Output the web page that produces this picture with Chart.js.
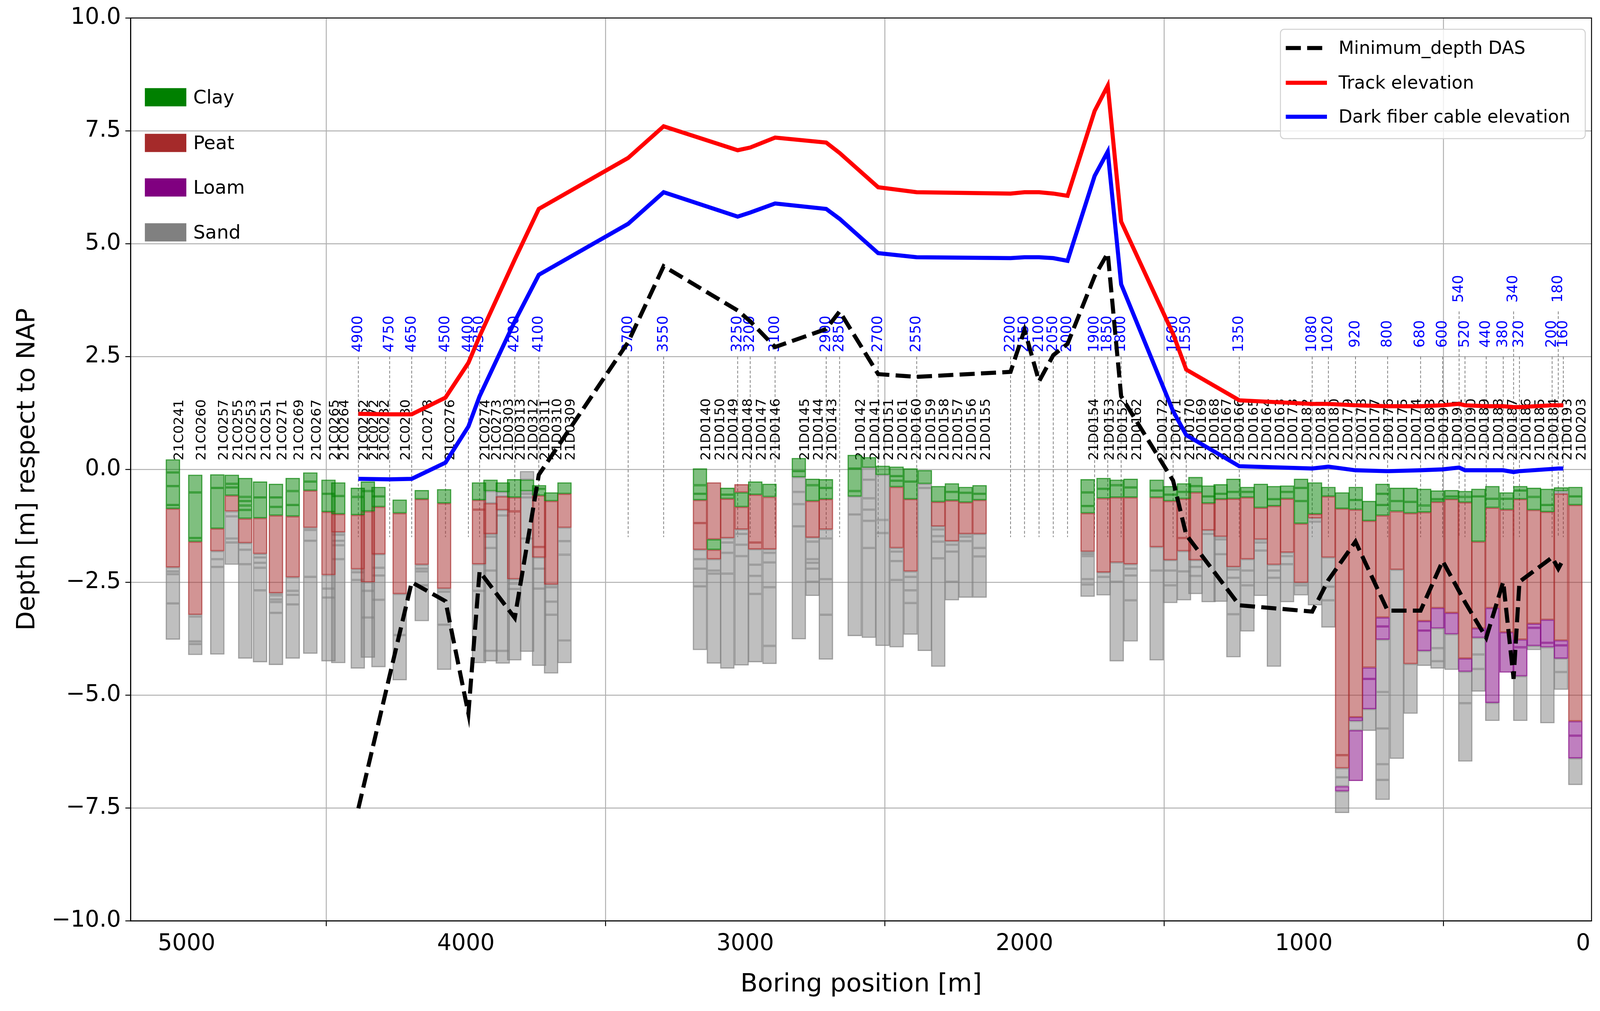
<!DOCTYPE html>
<html>
<head>
<meta charset="utf-8">
<script src="https://cdn.jsdelivr.net/npm/chart.js@4.4.1/dist/chart.umd.min.js"></script>
<style>
  html, body { margin: 0; padding: 0; background: #fff; overflow: hidden; }
</style>
</head>
<body>
<div id="wrap"><canvas id="profile"></canvas></div>
<script>
// borings: name, x position [m], layer boundaries [m NAP] top->bottom, soil per layer
const boreNames = ['21C0241','21C0260','21C0257','21C0255','21C0253','21C0251','21C0271','21C0269','21C0267','21C0265',
  '21C0264','21C0262','21C0272','21C0282','21C0280','21C0278','21C0276','21C0274','21C0273','21D0303',
  '21D0313','21D0312','21D0311','21D0310','21D0309','21D0140','21D0150','21D0149','21D0148','21D0147',
  '21D0146','21D0145','21D0144','21D0143','21D0142','21D0141','21D0151','21D0161','21D0160','21D0159',
  '21D0158','21D0157','21D0156','21D0155','21D0154','21D0153','21D0152','21D0162','21D0172','21D0171',
  '21D0170','21D0169','21D0168','21D0167','21D0166','21D0165','21D0164','21D0163','21D0173','21D0182',
  '21D0181','21D0180','21D0179','21D0178','21D0177','21D0176','21D0175','21D0174','21D0183','21D0192',
  '21D0191','21D0190','21D0189','21D0188','21D0187','21D0186','21D0185','21D0184','21D0193','21D0203'];
const boreX = [5049,4969,4890,4838,4790,4737,4680,4620,4557,4492,
  4457,4387,4351,4313,4237,4158,4078,3953,3912,3868,
  3827,3781,3738,3695,3647,3162,3112,3064,3013,2964,
  2913,2808,2759,2711,2608,2557,2508,2458,2408,2357,
  2309,2260,2211,2161,1774,1717,1670,1620,1527,1478,
  1429,1388,1341,1298,1252,1202,1154,1107,1060,1010,
  960,912,863,814,766,718,667,618,569,521,
  471,422,375,325,274,225,176,128,79,28];
const boreBounds = [
  [0.22,-0.07,-0.37,-0.79,-0.87,-2.17,-2.26,-2.32,-2.97,-3.77],
  [-0.12,-0.51,-1.52,-1.60,-3.22,-3.26,-3.81,-3.87,-4.11],
  [-0.11,-0.41,-1.31,-1.81,-1.99,-2.16,-4.10],
  [-0.12,-0.32,-0.40,-0.58,-0.93,-1.04,-1.53,-1.62,-2.11],
  [-0.19,-0.61,-0.70,-0.80,-0.90,-1.09,-1.63,-1.78,-2.10,-4.19],
  [-0.27,-0.62,-1.08,-1.87,-1.95,-2.07,-2.18,-2.68,-4.27],
  [-0.32,-0.62,-0.83,-1.02,-2.74,-2.79,-2.88,-2.94,-3.18,-4.33],
  [-0.19,-0.48,-0.79,-1.04,-2.39,-2.69,-2.78,-2.99,-4.19],
  [-0.07,-0.27,-0.47,-1.29,-1.34,-1.58,-2.38,-4.08],
  [-0.23,-0.54,-0.94,-2.34,-2.64,-2.84,-4.25],
  [-0.29,-0.59,-0.99,-1.39,-1.45,-1.58,-1.68,-1.99,-4.29],
  [-0.41,-0.61,-1.01,-2.21,-2.28,-2.45,-4.41],
  [-0.27,-0.48,-0.93,-2.50,-2.69,-3.28,-4.17],
  [-0.39,-0.60,-0.83,-1.88,-2.18,-2.35,-2.89,-4.38],
  [-0.67,-0.97,-2.76,-3.67,-4.67],
  [-0.46,-0.66,-2.11,-2.20,-2.26,-2.57,-3.36],
  [-0.44,-0.75,-2.64,-2.71,-3.44,-4.44],
  [-0.29,-0.68,-0.89,-2.10,-2.69,-4.29],
  [-0.23,-0.48,-0.75,-1.43,-1.49,-1.74,-2.24,-4.02,-4.25],
  [-0.29,-0.50,-0.60,-0.90,-1.02,-4.02,-4.30],
  [-0.22,-0.62,-0.93,-2.43,-2.53,-2.65,-4.23],
  [-0.04,-0.23,-0.48,-0.54,-0.62,-1.53,-4.04],
  [-0.35,-0.43,-0.58,-1.72,-1.95,-2.20,-2.64,-4.35],
  [-0.51,-0.70,-2.55,-2.61,-2.93,-3.22,-4.52],
  [-0.29,-0.54,-1.29,-1.59,-1.89,-3.79,-4.29],
  [0.02,-0.35,-0.54,-0.68,-1.19,-1.78,-1.99,-2.20,-2.59,-4.00],
  [-0.29,-1.55,-1.78,-1.99,-2.24,-2.31,-4.30],
  [-0.41,-0.56,-0.65,-1.52,-1.62,-1.85,-2.31,-4.41],
  [-0.33,-0.51,-0.83,-1.33,-1.43,-1.67,-1.92,-4.34],
  [-0.27,-0.56,-1.62,-1.77,-2.11,-2.36,-2.76,-4.27],
  [-0.32,-0.61,-1.77,-1.85,-2.06,-2.61,-3.91,-4.31],
  [0.25,-0.04,-0.17,-0.50,-0.77,-1.26,-3.76],
  [-0.21,-0.35,-0.70,-1.51,-1.60,-1.99,-2.07,-2.20,-2.49,-2.80],
  [-0.22,-0.41,-0.66,-1.33,-1.53,-2.43,-3.22,-4.21],
  [0.32,0.02,-0.48,-0.60,-1.00,-3.69],
  [0.27,0.04,-0.23,-0.64,-0.89,-1.14,-1.74,-3.73],
  [0.08,-0.12,-1.12,-1.41,-3.91],
  [0.06,-0.15,-0.25,-0.39,-1.74,-1.82,-2.03,-2.45,-3.94],
  [0.02,-0.27,-0.66,-2.26,-2.38,-2.68,-2.96,-3.66],
  [-0.02,-0.32,-0.41,-4.02],
  [-0.37,-0.72,-1.26,-1.33,-1.48,-1.60,-1.97,-4.37],
  [-0.31,-0.50,-0.69,-1.59,-1.67,-1.82,-2.49,-2.90],
  [-0.39,-0.52,-0.73,-1.43,-1.49,-1.59,-2.84],
  [-0.35,-0.54,-0.68,-1.43,-1.74,-1.93,-2.84],
  [-0.22,-0.51,-0.81,-0.97,-1.82,-1.87,-1.92,-2.43,-2.55,-2.82],
  [-0.19,-0.43,-0.64,-2.28,-2.38,-2.79],
  [-0.23,-0.35,-0.62,-2.06,-2.49,-4.25],
  [-0.21,-0.40,-0.62,-2.10,-2.20,-2.35,-2.90,-3.81],
  [-0.23,-0.47,-0.62,-1.72,-2.24,-4.23],
  [-0.37,-0.56,-0.70,-2.01,-2.24,-2.57,-2.96],
  [-0.31,-0.50,-0.65,-1.52,-1.81,-2.26,-2.90],
  [-0.17,-0.37,-0.51,-2.01,-2.16,-2.36,-2.76],
  [-0.36,-0.60,-0.75,-1.35,-1.43,-2.94],
  [-0.33,-0.54,-0.66,-1.49,-1.55,-1.88,-2.93],
  [-0.21,-0.50,-0.65,-2.16,-2.22,-2.40,-3.21,-4.16],
  [-0.39,-0.50,-0.62,-1.99,-2.24,-2.57,-3.59],
  [-0.32,-0.85,-1.55,-1.62,-1.80,-2.80],
  [-0.37,-0.66,-0.81,-2.11,-2.24,-2.40,-4.37],
  [-0.36,-0.50,-0.65,-1.84,-1.92,-2.10,-2.94],
  [-0.21,-0.41,-0.70,-1.20,-2.51,-2.57,-2.79],
  [-0.29,-0.99,-1.08,-1.16,-3.01],
  [-0.39,-0.60,-1.95,-2.60,-2.90,-3.50],
  [-0.51,-0.87,-6.33,-6.62,-6.82,-7.02,-7.13,-7.61],
  [-0.39,-0.68,-0.89,-5.49,-5.57,-5.78,-6.90],
  [-0.70,-1.14,-4.39,-4.64,-5.31,-5.79],
  [-0.32,-0.54,-0.79,-1.02,-3.28,-3.48,-3.77,-4.93,-5.74,-6.53,-6.88,-7.32],
  [-0.41,-0.70,-0.93,-2.22,-6.41],
  [-0.41,-0.72,-0.97,-4.31,-5.41],
  [-0.43,-0.80,-0.95,-3.36,-3.57,-4.02,-4.35],
  [-0.47,-0.66,-0.72,-3.07,-3.52,-3.96,-4.25,-4.41],
  [-0.46,-0.60,-0.66,-3.18,-3.65,-4.44],
  [-0.48,-0.61,-0.73,-4.19,-4.48,-5.18,-6.47],
  [-0.43,-0.60,-1.60,-3.52,-3.73,-4.10,-4.42,-4.92],
  [-0.37,-0.65,-0.85,-3.07,-5.17,-5.57],
  [-0.51,-0.65,-0.89,-3.61,-4.50],
  [-0.37,-0.47,-0.66,-3.77,-3.94,-4.58,-5.57],
  [-0.41,-0.61,-0.90,-3.42,-3.51,-3.91,-4.00],
  [-0.43,-0.79,-0.94,-3.33,-3.84,-3.94,-5.62],
  [-0.40,-0.48,-0.54,-3.79,-3.90,-4.19,-4.49,-4.88],
  [-0.39,-0.60,-0.79,-5.58,-5.90,-6.40,-6.99]
];
const boreTypes = ['CCCCPSSSS','CCCPSSSS','CCPSSS','CCCPSSSS','CCCCCPSSS','CCPSSSSS','CCCPSSSSS','CCCPSSSS','CCPSSSS','CCPSSS',
  'CCPSSSSS','CCPSSS','CCPSSS','CCPSSSS','CPSS','CPSSSS','CPSSS','CPPSS','CSPSSSSS','CSPSSS',
  'CPPSSS','SCSSSS','CCPPSSS','CPSSSS','CPSSSS','CCCPPSSSS','PCPSSS','CCPSSSS','PCPSSSS','CPPSSSS',
  'CPSSSSS','CCSSSS','CCPSSSSSS','CCPSSSS','CCCSS','CSSSSSS','CSSS','CCCPSSSS','CCPSSSS','CSS',
  'CPSSSSS','CCPSSSS','CCPSSS','CCPSSS','CCCPSSSSS','CCPSS','CCPSS','CCPSSSS','CCPSS','CCPSSS',
  'CCPPSS','CCPSSS','CCPSS','CCPSSS','CCPSSSS','CCPSSS','CPSSS','CCPSSS','CCPSSS','CCCPSS',
  'CPSS','CPSSS','CPPSSLS','CCPLSL','CPLLS','CCCPLLSSSSS','CCPS','CCPS','CCPLLS','CCPLSSS',
  'CCPLS','CCPLSS','CCPLSSS','CCPLS','CCPL','CCPLLS','CCPLLS','CCPLLS','CSPLLSS','CCPLLS'];

// kilometre marks along the track and the three profiles
const posLabels = ['4900','4750','4650','4500','4400','4350','4200','4100','3700','3550','3250','3200','3100','2900','2850',
  '2700','2550','2200','2150','2100','2050','2000','1900','1850','1800','1600','1550','1350','1080','1020',
  '920','800','680','600','540','520','440','380','340','320','200','180','160'];
const posX = [4385,4273,4194,4073,3991,3951,3825,3739,3419,3292,3027,2982,2893,2710,2662,
  2524,2386,2050,2000,1948,1897,1846,1749,1702,1654,1468,1421,1231,970,912,
  815,700,582,503,444,423,347,286,249,228,111,89,71];
const posRaised = ['540','340','180'];
const trackElev = [1.23,1.22,1.22,1.59,2.36,2.95,4.65,5.77,6.9,7.6,7.07,7.13,7.35,7.24,7.01,
  6.25,6.14,6.11,6.14,6.14,6.11,6.06,7.94,8.5,5.49,3.0,2.21,1.53,1.45,1.45,
  1.42,1.40,1.40,1.42,1.45,1.42,1.40,1.40,1.38,1.38,1.42,1.42,1.42];
const cableElev = [-0.21,-0.22,-0.21,0.15,0.95,1.62,3.28,4.31,5.44,6.14,5.6,5.69,5.89,5.77,5.55,
  4.79,4.7,4.68,4.7,4.7,4.68,4.62,6.5,7.04,4.1,1.29,0.76,0.07,0.02,0.06,
  -0.02,-0.04,-0.02,0,0.04,-0.02,-0.02,-0.02,-0.06,-0.04,0.01,0.02,0.02];
const minDepthDAS = [-7.51,-4.57,-2.5,-2.92,-5.41,-2.26,-3.29,-0.12,2.82,4.5,3.52,3.28,2.71,3.11,3.5,
  2.11,2.05,2.16,3.09,1.95,2.53,2.78,4.28,4.79,1.62,-0.25,-1.45,-3.01,-3.15,-2.45,
  -1.6,-3.13,-3.13,-2.03,-2.7,-2.94,-3.73,-2.49,-4.64,-2.49,-1.95,-2.2,-1.99];

const soils = [
  { key: 'C', label: 'Clay', fill: 'rgba(0,128,0,0.5)', edge: 'rgba(0,128,0,0.75)', solid: '#008000' },
  { key: 'P', label: 'Peat', fill: 'rgba(165,42,42,0.5)', edge: 'rgba(165,42,42,0.75)', solid: '#a52a2a' },
  { key: 'L', label: 'Loam', fill: 'rgba(128,0,128,0.5)', edge: 'rgba(128,0,128,0.75)', solid: '#800080' },
  { key: 'S', label: 'Sand', fill: 'rgba(128,128,128,0.5)', edge: 'rgba(128,128,128,0.75)', solid: '#808080' }
];

// laid out on a 5092 x 2589 design, scaled to the real window
const W = window.innerWidth;
const H = window.innerHeight;
const k = W / 5092;
const ky = H / 2589;
const px = v => v * k;
const py = v => v * ky;
const wrap = document.getElementById('wrap');
wrap.style.width = W + 'px';
wrap.style.height = H + 'px';

Chart.defaults.font.family = 'DejaVu Sans';
Chart.defaults.color = '#000';

const soilDatasets = soils.map(s => {
  let data = [];
  boreX.forEach((bx, i) => {
    const b = boreBounds[i];
    boreTypes[i].split('').forEach((t, j) => {
      if (t === s.key) data.push({ x: bx, y: [b[j + 1], b[j]] });
    });
  });
  return {
    type: 'bar', label: s.label, data: data,
    backgroundColor: s.fill, borderColor: s.edge, borderWidth: px(3), borderSkipped: false,
    barThickness: px(45), grouped: false, order: 10
  };
});

const lineData = arr => posX.map((p, i) => ({ x: p, y: arr[i] }));

const lineDatasets = [
  { type: 'line', label: 'Minimum_depth DAS', data: lineData(minDepthDAS), borderColor: '#000',
    borderWidth: px(13), borderDash: [px(48), px(20)], pointRadius: 0, fill: false, tension: 0, order: 0 },
  { type: 'line', label: 'Track elevation', data: lineData(trackElev), borderColor: '#ff0000',
    borderWidth: px(13), pointRadius: 0, fill: false, tension: 0, order: 2 },
  { type: 'line', label: 'Dark fiber cable elevation', data: lineData(cableElev), borderColor: '#0000ff',
    borderWidth: px(13), pointRadius: 0, fill: false, tension: 0, order: 1 }
];

const overlay = {
  id: 'overlay',
  beforeDatasetsDraw(chart) {
    const { ctx, scales: { x, y } } = chart;
    ctx.save();
    // dashed marker lines
    ctx.strokeStyle = '#808080';
    ctx.lineWidth = px(2.5);
    ctx.setLineDash([px(9), px(6)]);
    posX.forEach((p, i) => {
      const top = posRaised.includes(posLabels[i]) ? 3.5 : 2.5;
      const xp = x.getPixelForValue(p);
      ctx.beginPath();
      ctx.moveTo(xp, y.getPixelForValue(top));
      ctx.lineTo(xp, y.getPixelForValue(-1.5));
      ctx.stroke();
    });
    ctx.setLineDash([]);
    // position labels
    ctx.font = px(46) + 'px "DejaVu Sans"';
    ctx.fillStyle = '#0000ff';
    ctx.textAlign = 'center';
    ctx.textBaseline = 'middle';
    posX.forEach((p, i) => {
      const ly = posRaised.includes(posLabels[i]) ? 4 : 3;
      ctx.save();
      ctx.translate(x.getPixelForValue(p), y.getPixelForValue(ly));
      ctx.rotate(-Math.PI / 2);
      ctx.fillText(posLabels[i], 0, 0);
      ctx.restore();
    });
    // boring names
    ctx.font = px(43) + 'px "DejaVu Sans"';
    ctx.fillStyle = '#000';
    ctx.textAlign = 'left';
    ctx.textBaseline = 'top';
    boreX.forEach((bx, i) => {
      ctx.save();
      ctx.translate(x.getPixelForValue(bx), y.getPixelForValue(0.2));
      ctx.rotate(-Math.PI / 2);
      ctx.fillText(boreNames[i], 0, 0);
      ctx.restore();
    });
    ctx.restore();
  },
  afterDraw(chart) {
    const { ctx, chartArea: a } = chart;
    ctx.save();
    ctx.strokeStyle = '#000';
    ctx.lineWidth = px(3);
    ctx.strokeRect(a.left, a.top, a.right - a.left, a.bottom - a.top);

    // soil legend
    ctx.font = px(60) + 'px "DejaVu Sans"';
    ctx.textAlign = 'left';
    ctx.textBaseline = 'middle';
    const rows = [249, 366, 480, 595];
    soils.forEach((s, i) => {
      ctx.fillStyle = s.solid;
      ctx.fillRect(px(461), py(rows[i]) - px(29), px(132), px(58));
      ctx.fillStyle = '#000';
      ctx.fillText(s.label, px(615), py(rows[i]) + px(4));
    });

    // line legend
    ctx.font = px(57) + 'px "DejaVu Sans"';
    ctx.fillStyle = 'rgba(255,255,255,0.8)';
    ctx.strokeStyle = '#d0d0d0';
    ctx.lineWidth = px(3);
    ctx.beginPath();
    ctx.roundRect(px(4075), py(75), px(970), py(280), px(12));
    ctx.fill();
    ctx.stroke();
    const ly = [123, 212, 299];
    lineDatasets.forEach((d, i) => {
      ctx.strokeStyle = d.borderColor;
      ctx.lineWidth = px(13);
      ctx.setLineDash(d.borderDash || []);
      ctx.beginPath();
      ctx.moveTo(px(4092), py(ly[i]));
      ctx.lineTo(px(4223), py(ly[i]));
      ctx.stroke();
      ctx.setLineDash([]);
      ctx.fillStyle = '#000';
      ctx.fillText(d.label, px(4260), py(ly[i]) + px(4));
    });
    ctx.restore();
  }
};

const fmt = v => (v < 0 ? '\u2212' : '') + Math.abs(v).toFixed(1);

new Chart(document.getElementById('profile'), {
  type: 'bar',
  data: { datasets: [...lineDatasets, ...soilDatasets] },
  options: {
    responsive: true,
    maintainAspectRatio: false,
    animation: false,
    layout: { padding: { top: py(46), right: px(27), left: 0, bottom: 0 } },
    plugins: { legend: { display: false }, tooltip: { enabled: false } },
    scales: {
      x: {
        type: 'linear', reverse: true, min: -30, max: 5200, offset: false,
        afterBuildTicks: s => { s.ticks = [0, 1000, 2000, 3000, 4000, 5000].map(v => ({ value: v })); },
        afterFit: s => { s.height = py(231); },
        grid: { color: '#b0b0b0', lineWidth: px(3), tickLength: px(17), tickColor: '#000', tickWidth: px(3) },
        border: { color: '#000', width: px(3) },
        ticks: { font: { size: px(72) }, padding: py(12), maxRotation: 0, callback: v => String(v) },
        title: { display: true, text: 'Boring position [m]', font: { size: px(80) }, padding: { top: 0, bottom: py(28) } }
      },
      y: {
        type: 'linear', min: -10, max: 10,
        afterBuildTicks: s => { s.ticks = [-10, -7.5, -5, -2.5, 0, 2.5, 5, 7.5, 10].map(v => ({ value: v })); },
        afterFit: s => { s.width = px(416); },
        grid: { color: '#b0b0b0', lineWidth: px(3), tickLength: px(17), tickColor: '#000', tickWidth: px(3) },
        border: { color: '#000', width: px(3) },
        ticks: { font: { size: px(72) }, padding: px(14), callback: fmt },
        title: { display: true, text: 'Depth [m] respect to NAP', font: { size: px(80) }, padding: { top: px(40), bottom: 0 } }
      }
    }
  },
  plugins: [overlay]
});
</script>
</body>
</html>
